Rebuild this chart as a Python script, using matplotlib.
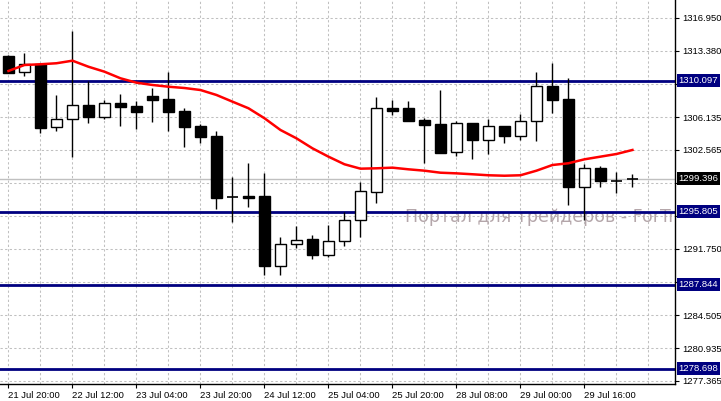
import matplotlib
matplotlib.use('Agg')
import matplotlib.pyplot as plt
from matplotlib.transforms import blended_transform_factory

# ---------------- data ----------------
tick_labels = ["21 Jul 20:00", "22 Jul 12:00", "23 Jul 04:00", "23 Jul 20:00",
               "24 Jul 12:00", "25 Jul 04:00", "25 Jul 20:00", "28 Jul 08:00",
               "29 Jul 00:00", "29 Jul 16:00"]
tick_positions = [0, 4, 8, 12, 16, 20, 24, 28, 32, 36]

opens = [1312.79, 1311.01, 1311.89, 1305.01, 1305.89, 1307.45, 1306.17, 1307.66, 1307.34, 1308.43,
         1308.10, 1306.79, 1305.15, 1304.06, 1297.38, 1297.52, 1297.52, 1289.91, 1292.25, 1292.83,
         1291.11, 1292.58, 1294.87, 1297.99, 1307.09, 1307.12, 1305.78, 1305.37, 1302.29, 1305.48,
         1303.59, 1305.12, 1304.10, 1305.67, 1309.49, 1308.10, 1298.53, 1300.54, 1299.19, 1299.40]
highs = [1312.85, 1313.15, 1312.00, 1308.54, 1315.55, 1310.06, 1307.99, 1308.65, 1307.88, 1309.33,
         1311.08, 1307.12, 1305.37, 1304.61, 1299.59, 1301.12, 1300.03, 1293.04, 1294.24, 1293.26,
         1294.35, 1295.74, 1299.05, 1308.32, 1307.99, 1307.88, 1306.00, 1309.08, 1305.73, 1305.50,
         1305.92, 1305.15, 1306.46, 1311.08, 1312.03, 1310.39, 1301.01, 1300.79, 1300.14, 1299.92]
lows = [1310.90, 1310.64, 1304.42, 1304.64, 1301.81, 1305.51, 1305.95, 1305.15, 1304.86, 1305.62,
        1304.64, 1302.90, 1303.33, 1296.13, 1294.71, 1296.35, 1288.93, 1288.93, 1291.88, 1290.68,
        1290.86, 1292.10, 1293.08, 1296.72, 1306.39, 1305.70, 1301.15, 1302.20, 1301.91, 1301.59,
        1302.07, 1303.33, 1303.66, 1303.55, 1306.61, 1296.57, 1294.90, 1298.47, 1297.88, 1298.47]
closes = [1310.97, 1311.89, 1304.97, 1305.92, 1307.41, 1306.17, 1307.63, 1307.26, 1306.71, 1308.02,
          1306.71, 1305.08, 1303.99, 1297.33, 1297.38, 1297.33, 1289.88, 1292.25, 1292.72, 1291.11,
          1292.61, 1294.87, 1298.03, 1307.09, 1306.76, 1305.73, 1305.30, 1302.24, 1305.45, 1303.66,
          1305.12, 1304.10, 1305.67, 1309.49, 1308.02, 1298.53, 1300.54, 1299.19, 1299.19, 1299.40]
ma_values = [1311.16, 1311.81, 1311.89, 1312.00, 1312.28, 1311.62, 1311.08, 1310.36, 1309.88, 1309.63,
             1309.44, 1309.30, 1309.08, 1308.54, 1307.81, 1307.09, 1306.00, 1304.72, 1303.81, 1302.72,
             1301.81, 1300.98, 1300.50, 1300.54, 1300.61, 1300.43, 1300.28, 1300.06, 1299.99, 1299.89,
             1299.78, 1299.73, 1299.78, 1300.28, 1300.90, 1301.09, 1301.52, 1301.81, 1302.10, 1302.54]

level_lines = [1310.097, 1295.805, 1287.844, 1278.698]
bid_price = 1299.396
y_ticks = [1316.950, 1313.380, 1309.745, 1306.135, 1302.565, 1298.960, 1295.355,
           1291.750, 1288.125, 1284.505, 1280.935, 1277.365]
y_tick_labels = ["1316.950", "1313.380", "", "1306.135", "1302.565", "", "",
                 "1291.750", "", "1284.505", "1280.935", "1277.365"]
watermark = "Портал для трейдеров - ForTrader.org"

# ---------------- figure ----------------
plt.rcParams['font.family'] = ['Liberation Sans', 'DejaVu Sans']
fig = plt.figure(figsize=(7.21, 4.01), dpi=100)
ax = fig.add_axes([0.0, 17 / 401, 675 / 721, 384 / 401])
ax.set_xlim(-0.53, 41.66)
ax.set_ylim(1277.01, 1318.90)

# grid
grid_kw = dict(color='#c0c0c0', lw=0.75, dashes=(2.2, 2.2), zorder=0)
for gx in range(0, 42, 2):
    ax.axvline(gx, **grid_kw)
for gy in y_ticks:
    ax.axhline(gy, **grid_kw)

# bid line
ax.axhline(bid_price, color='#c0c0c0', lw=1.0, zorder=1)

# level lines
for lv in level_lines:
    ax.axhline(lv, color='#000080', lw=2.0, zorder=2)

# watermark
ax.text(405 / 675, 1295.2, watermark, transform=blended_transform_factory(ax.transAxes, ax.transData),
        fontsize=12.5, color='#b4a6aa', family='DejaVu Sans', va='center', ha='left',
        clip_on=True, zorder=1.5)

# candles
body_w = 0.64
idx = list(range(len(opens)))
ax.vlines(idx, lows, highs, color='black', lw=1.0, zorder=3)
for i in idx:
    o, c = opens[i], closes[i]
    bottom = min(o, c)
    h = abs(c - o)
    if h < 0.12:
        ax.hlines(o, i - body_w / 2, i + body_w / 2, color='black', lw=1.2, zorder=4)
        continue
    fc = 'white' if c > o else 'black'
    ax.bar(i, h, bottom=bottom, width=body_w, color=fc, edgecolor='black', lw=1.0, zorder=4)

# moving average
ax.plot(idx, ma_values, color='#ff0000', lw=1.8, zorder=5)

# axes styling
for s in ['left', 'top']:
    ax.spines[s].set_visible(False)
for s in ['right', 'bottom']:
    ax.spines[s].set_color('black')
    ax.spines[s].set_linewidth(1.0)

ax.yaxis.tick_right()
ax.set_yticks(y_ticks)
ax.set_yticklabels(y_tick_labels)
ax.tick_params(axis='y', length=3, width=0.8, pad=2, labelsize=6.8, colors='black')
ax.set_xticks(tick_positions)
ax.set_xticklabels(tick_labels, ha='left')
ax.tick_params(axis='x', length=3, width=0.8, pad=2, labelsize=6.8, colors='black')
for lab in ax.get_xticklabels():
    lab.set_horizontalalignment('left')

# price boxes on the right axis
trans = blended_transform_factory(ax.transAxes, ax.transData)
for lv in level_lines:
    ax.annotate(f"{lv:.3f}", xy=(1.0, lv), xycoords=trans, xytext=(2.5, 0),
                textcoords='offset points', fontsize=6.8, color='white', va='center', ha='left',
                bbox=dict(boxstyle='square,pad=0.2', fc='#000080', ec='none'),
                annotation_clip=False, zorder=10)
ax.annotate(f"{bid_price:.3f}", xy=(1.0, bid_price), xycoords=trans, xytext=(2.5, 0),
            textcoords='offset points', fontsize=6.8, color='white', va='center', ha='left',
            bbox=dict(boxstyle='square,pad=0.2', fc='black', ec='none'),
            annotation_clip=False, zorder=10)

fig.savefig('out.png', dpi=100, facecolor='white')
